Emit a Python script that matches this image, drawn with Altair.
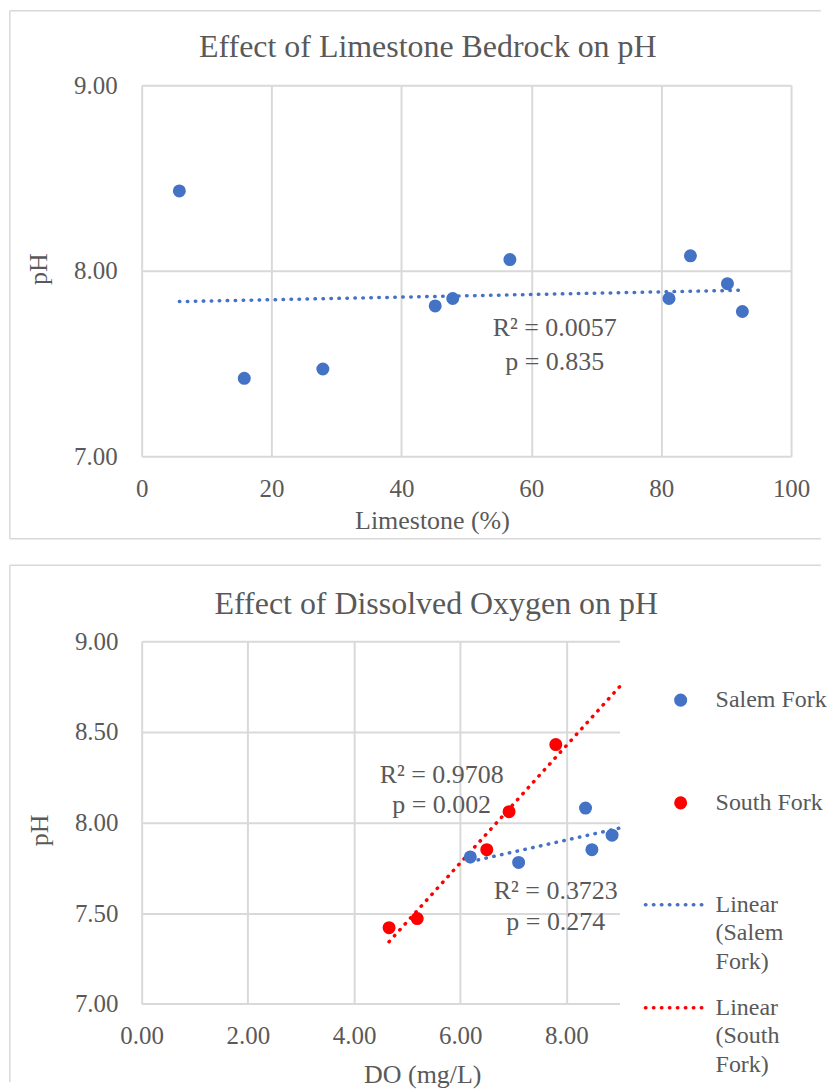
import altair as alt
import pandas as pd

# ---------- data: chart 1 (limestone vs pH) ----------
limestone_pct = [5.8, 15.8, 27.9, 45.2, 47.9, 56.7, 81.2, 84.5, 90.2, 92.5]
ph_by_limestone = [8.43, 7.42, 7.47, 7.81, 7.85, 8.06, 7.85, 8.08, 7.93, 7.78]

# ---------- data: chart 2 (dissolved oxygen vs pH) ----------
salem_do = [6.19, 7.10, 8.36, 8.48, 8.86]
salem_ph = [7.81, 7.78, 8.08, 7.85, 7.93]
south_do = [4.66, 5.19, 6.50, 6.92, 7.80]
south_ph = [7.42, 7.47, 7.85, 8.06, 8.43]

# annotation texts (stats) and their anchor in data units
ann1_text = ["R² = 0.0057", "p = 0.835"]
ann1_x = [63.6, 63.6]
ann1_y = [7.69, 7.51]
ann2_text = ["R² = 0.9708", "p = 0.002", "R² = 0.3723", "p = 0.274"]
ann2_x = [5.65, 5.65, 7.80, 7.80]
ann2_y = [8.263, 8.096, 7.62, 7.45]

title1 = "Effect of Limestone Bedrock on pH"
title2 = "Effect of Dissolved Oxygen on pH"
series = ["Salem Fork", "South Fork"]
trend_names = [["Linear", "(Salem", "Fork)"], ["Linear", "(South", "Fork)"]]

x1_ticks = [0, 20, 40, 60, 80, 100]
y1_ticks = [7, 8, 9]
x2_ticks = [0, 2, 4, 6, 8]
y2_ticks = [7.0, 7.5, 8.0, 8.5, 9.0]
X2_MAX = 9

FONT = "Liberation Serif"
TXT = "#595959"
GRID = "#d9d9d9"
BLUE = "#4472C4"
RED = "#FF0000"
PT = 170
DOT = [0.5, 7.5]

one = pd.DataFrame({"k": [0]})


def axis(values, title, fmt, **kw):
    return alt.Axis(values=values, title=title, format=fmt, domain=False, ticks=False,
                    grid=True, gridColor=GRID, gridWidth=2, labelFlush=False,
                    labelFont=FONT, labelFontSize=25, labelColor=TXT,
                    titleFont=FONT, titleFontSize=26, titleFontWeight="normal",
                    titleColor=TXT, **kw)


def rule(**enc):
    return alt.Chart(one).mark_rule(stroke=GRID, strokeWidth=1.5).encode(
        **{k: alt.value(v) for k, v in enc.items()})


def heading(text, x, y):
    return alt.Chart(one).mark_text(font=FONT, fontSize=32, color=TXT, align="center",
                                    baseline="alphabetic").encode(
        x=alt.value(x), y=alt.value(y), text=alt.value(text))


# ================= chart 1 =================
W1, H1 = 651, 372
df1 = pd.DataFrame({"limestone": limestone_pct, "ph": ph_by_limestone})
X1 = alt.X("limestone:Q", scale=alt.Scale(domain=[0, 100], nice=False),
           axis=axis(x1_ticks, "Limestone (%)", "d", labelPadding=40,
                     labelBaseline="alphabetic", titleX=291, titleY=72.5,
                     titleAlign="center", titleBaseline="alphabetic"))
Y1 = alt.Y("ph:Q", scale=alt.Scale(domain=[7, 9], nice=False, zero=False),
           axis=axis(y1_ticks, "pH", ".2f", labelPadding=24.5,
                     titleX=-103, titleY=184, titleAngle=270,
                     titleAlign="center", titleBaseline="middle"))

L1, R1, T1, B1 = -132.2, 681, -74.5, 454.7
border1 = [rule(x=L1, x2=R1, y=T1), rule(x=L1, x2=R1, y=B1), rule(x=L1, y=T1, y2=B1)]
pts1 = alt.Chart(df1).mark_circle(size=PT, color=BLUE, opacity=1).encode(x=X1, y=Y1)
trend1 = alt.Chart(df1).transform_regression("limestone", "ph").mark_line(
    color=BLUE, strokeWidth=3.5, strokeDash=DOT, strokeCap="round").encode(x=X1, y=Y1)
ann1 = alt.Chart(pd.DataFrame({"limestone": ann1_x, "ph": ann1_y, "t": ann1_text})).mark_text(
    font=FONT, fontSize=26, color=TXT, align="center", baseline="middle").encode(
    x=X1, y=Y1, text="t:N")

chart1 = alt.layer(pts1, trend1, ann1, *border1, heading(title1, 286.8, -28.3)).properties(
    width=W1, height=H1)

# ================= chart 2 =================
W2, H2 = 479, 363.4
dfs = pd.DataFrame({"do": salem_do, "ph": salem_ph})
dfn = pd.DataFrame({"do": south_do, "ph": south_ph})
X2 = alt.X("do:Q", scale=alt.Scale(domain=[0, X2_MAX], nice=False),
           axis=axis(x2_ticks, "DO (mg/L)", ".2f", labelPadding=40,
                     labelBaseline="alphabetic", titleX=281.3, titleY=78.6,
                     titleAlign="center", titleBaseline="alphabetic"))
Y2 = alt.Y("ph:Q", scale=alt.Scale(domain=[7, 9], nice=False, zero=False),
           axis=axis(y2_ticks, "pH", ".2f", labelPadding=23.7,
                     titleX=-102.7, titleY=189, titleAngle=270,
                     titleAlign="center", titleBaseline="middle"))

L2, R2, T2, B2 = -132.2, 681, -76.3, 441.7
border2 = [rule(x=L2, x2=R2, y=T2), rule(x=L2, y=T2, y2=B2)]

pts_s = alt.Chart(dfs).mark_circle(size=PT, color=BLUE, opacity=1).encode(x=X2, y=Y2)
pts_n = alt.Chart(dfn).mark_circle(size=PT, color=RED, opacity=1).encode(x=X2, y=Y2)
trend_s = alt.Chart(dfs).transform_regression("do", "ph", extent=[min(salem_do), X2_MAX]).mark_line(
    color=BLUE, strokeWidth=3.5, strokeDash=DOT, strokeCap="round").encode(x=X2, y=Y2)
trend_n = alt.Chart(dfn).transform_regression("do", "ph", extent=[min(south_do), X2_MAX]).mark_line(
    color=RED, strokeWidth=3.5, strokeDash=DOT, strokeCap="round").encode(x=X2, y=Y2)
ann2 = alt.Chart(pd.DataFrame({"do": ann2_x, "ph": ann2_y, "t": ann2_text})).mark_text(
    font=FONT, fontSize=26, color=TXT, align="center", baseline="middle").encode(
    x=X2, y=Y2, text="t:N")

# legend (key) entries
LX_SYM, LX_TXT, LX_L1, LX_L2 = 540.3, 575.3, 505.0, 568.3
LEG_FS = 24
leg_sym_s = alt.Chart(one).mark_circle(size=PT, color=BLUE, opacity=1).encode(
    x=alt.value(LX_SYM), y=alt.value(59))
leg_sym_n = alt.Chart(one).mark_circle(size=PT, color=RED, opacity=1).encode(
    x=alt.value(LX_SYM), y=alt.value(162))
leg_line_s = alt.Chart(one).mark_rule(color=BLUE, strokeWidth=3.5, strokeDash=DOT, strokeCap="round").encode(
    x=alt.value(LX_L1), x2=alt.value(LX_L2), y=alt.value(264))
leg_line_n = alt.Chart(one).mark_rule(color=RED, strokeWidth=3.5, strokeDash=DOT, strokeCap="round").encode(
    x=alt.value(LX_L1), x2=alt.value(LX_L2), y=alt.value(367.4))


def leg_text(lines, y, base):
    return alt.Chart(one).mark_text(font=FONT, fontSize=LEG_FS, color=TXT, align="left",
                                    baseline=base, lineHeight=28.5).encode(
        x=alt.value(LX_TXT), y=alt.value(y), text=alt.value(lines))


leg_t1 = leg_text(series[0], 59, "middle")
leg_t2 = leg_text(series[1], 162, "middle")
leg_t3 = leg_text(trend_names[0], 264 - 0.49 * LEG_FS, "top")
leg_t4 = leg_text(trend_names[1], 367.4 - 0.49 * LEG_FS, "top")

chart2 = alt.layer(trend_n, trend_s, pts_s, pts_n, ann2, *border2,
                   leg_sym_s, leg_sym_n, leg_line_s, leg_line_n,
                   leg_t1, leg_t2, leg_t3, leg_t4,
                   heading(title2, 295.3, -27)).properties(width=W2, height=H2)

chart = alt.vconcat(chart1, chart2, spacing=23.5).properties(
    padding={"left": 1, "top": 0, "right": 0, "bottom": 0}
).configure_view(strokeWidth=0)

chart.save("out.html", embed_options={"renderer": "svg", "actions": False})
